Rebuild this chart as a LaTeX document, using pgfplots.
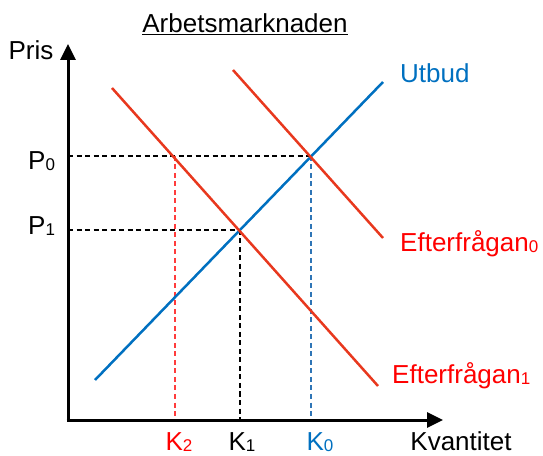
\documentclass[border=0pt]{standalone}
\usepackage{fontspec}
\setmainfont{Liberation Sans}
\usepackage{pgfplots}
\pgfplotsset{compat=1.18}
\usetikzlibrary{arrows.meta}
\definecolor{lred}{RGB}{232,56,30}
\definecolor{tred}{RGB}{255,0,0}
\definecolor{lblue}{RGB}{0,112,192}
\definecolor{dred}{RGB}{255,60,60}
\definecolor{dblue}{RGB}{46,117,182}
\newcommand{\sub}[1]{\raisebox{-1pt}{\fontsize{17}{17}\selectfont #1}}
\begin{document}
\begin{tikzpicture}[every node/.style={font=\fontsize{26}{31}\selectfont, inner sep=0pt}]
\begin{axis}[
  x=1pt, y=1pt, xmin=0, xmax=543, ymin=0, ymax=455,
  hide axis, clip=false, scale only axis,
]
\addplot[draw=none, forget plot] coordinates {(0,0) (543,455)};
% dashed guides
\addplot[black, line width=1.1pt, dash pattern=on 5pt off 3.5pt] coordinates {(68,299) (311,299)};
\addplot[black, line width=1.1pt, dash pattern=on 5pt off 3.5pt] coordinates {(68,225) (239,225)};
\addplot[dred, line width=1.1pt, dash pattern=on 5pt off 3.5pt] coordinates {(175,299) (175,35)};
\addplot[black, line width=1.1pt, dash pattern=on 5pt off 3.5pt] coordinates {(240,225) (240,35)};
\addplot[dblue, line width=1.1pt, dash pattern=on 5pt off 3.5pt] coordinates {(311,299) (311,35)};
% curves
\addplot[lblue, line width=2.5pt] coordinates {(95,75) (383,373)};
\addplot[lred, line width=2.5pt] coordinates {(233,385) (383,217)};
\addplot[lred, line width=2.5pt] coordinates {(112,367) (378,69)};
% axes
\addplot[black, line width=3pt, -{Triangle[width=15pt,length=16pt]}] coordinates {(68,34) (68,411)};
\addplot[black, line width=3pt, -{Triangle[width=15pt,length=16pt]}] coordinates {(66.5,35) (443,35)};
% labels
\node[anchor=base] at (axis cs:245,422) {\underline{Arbetsmarknaden}};
\node[anchor=base] at (axis cs:31,395) {Pris};
\node[anchor=base west] at (axis cs:28,285) {P\sub{0}};
\node[anchor=base west] at (axis cs:28,220) {P\sub{1}};
\node[anchor=base, text=tred] at (axis cs:179,4.5) {K\sub{2}};
\node[anchor=base] at (axis cs:242,4.5) {K\sub{1}};
\node[anchor=base, text=lblue] at (axis cs:320,4.5) {K\sub{0}};
\node[anchor=base] at (axis cs:461,4.5) {Kvantitet};
\node[anchor=base west, text=lblue] at (axis cs:400,372) {Utbud};
\node[anchor=base west, text=tred] at (axis cs:400,203) {Efterfrågan\sub{0}};
\node[anchor=base west, text=tred] at (axis cs:392,71) {Efterfrågan\sub{1}};
\end{axis}
\end{tikzpicture}
\end{document}
